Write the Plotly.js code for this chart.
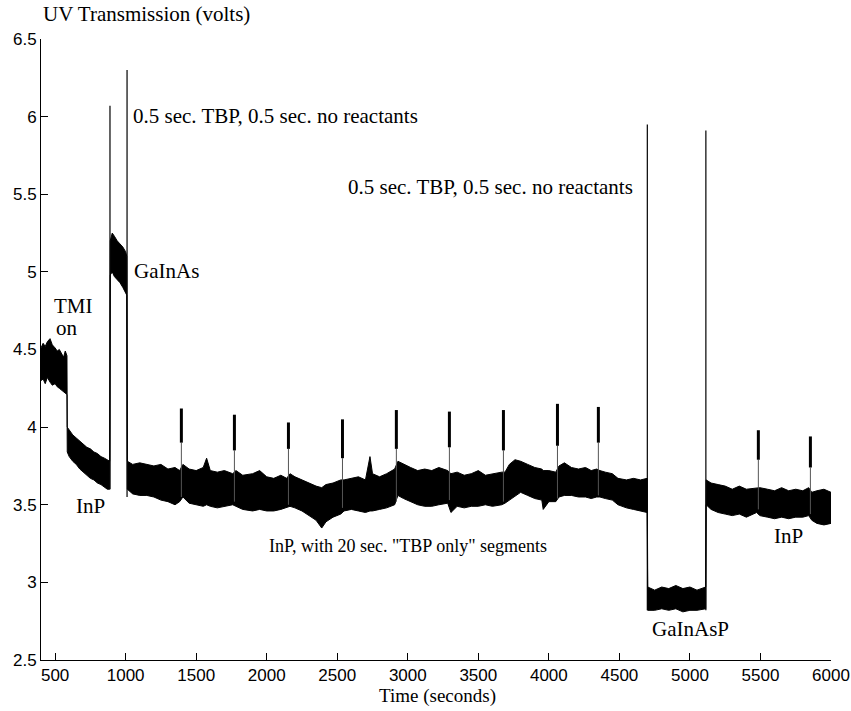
<!DOCTYPE html>
<html><head><meta charset="utf-8">
<script src="https://cdn.plot.ly/plotly-3.0.1.min.js"></script>
<style>html,body{margin:0;padding:0;background:#fff}</style>
</head><body><div id="chart" style="width:851px;height:711px"></div>
<script>
// ---- data (envelope of the noisy UV transmission signal) ----
const time = [
  400,415,430,445,464,480,500,515,530,545,560,572,584,
  586,600,625,650,675,700,725,750,775,800,825,850,870,887,
  891,905,920,940,960,980,1000,1008,
  1012,1050,1100,1150,1200,1250,1300,1350,1383,1406,1450,1500,1550,1574,1600,1650,1700,1759,
  1782,1830,1900,1950,2000,2050,2100,2142,2165,2200,2250,2300,2350,2390,2420,2470,2525,
  2548,2600,2650,2700,2732,2750,2800,2850,2907,2930,2970,3020,3070,3120,3170,3220,3283,
  3306,3350,3400,3450,3500,3550,3600,3666,3689,3720,3760,3800,3850,3900,3950,3960,4000,4049,
  4072,4110,4160,4210,4260,4300,4339,4362,4400,4450,4490,4550,4600,4650,4697,
  4701,4750,4800,4850,4900,4950,5000,5050,5112,
  5115,5150,5200,5250,5300,5350,5400,5473,5495,5550,5600,5650,5700,5750,5800,5842,5864,5900,5950,6000
];
const upper = [
  4.51,4.54,4.52,4.55,4.57,4.53,4.51,4.49,4.50,4.47,4.45,4.49,4.46,
  4.00,3.98,3.95,3.93,3.91,3.89,3.87,3.86,3.84,3.83,3.81,3.80,3.79,3.78,
  5.20,5.25,5.23,5.20,5.18,5.16,5.13,5.10,
  3.78,3.76,3.77,3.76,3.75,3.76,3.73,3.74,3.72,3.76,3.73,3.72,3.74,3.80,3.72,3.71,3.72,3.70,
  3.72,3.69,3.70,3.72,3.68,3.67,3.69,3.67,3.70,3.68,3.66,3.64,3.62,3.61,3.63,3.64,3.66,
  3.66,3.67,3.68,3.66,3.81,3.70,3.68,3.70,3.73,3.78,3.76,3.74,3.72,3.73,3.72,3.74,3.72,
  3.70,3.71,3.69,3.70,3.72,3.69,3.70,3.71,3.71,3.76,3.79,3.78,3.76,3.74,3.73,3.72,3.72,3.71,
  3.75,3.77,3.74,3.73,3.74,3.72,3.73,3.72,3.71,3.70,3.67,3.66,3.67,3.66,3.67,
  2.97,2.95,2.97,2.96,2.98,2.96,2.97,2.95,2.97,
  3.66,3.64,3.63,3.62,3.60,3.62,3.60,3.61,3.61,3.60,3.59,3.61,3.59,3.60,3.59,3.61,3.58,3.59,3.60,3.58
];
const lower = [
  4.30,4.31,4.28,4.32,4.29,4.27,4.28,4.26,4.25,4.24,4.23,4.22,4.21,
  3.84,3.81,3.78,3.76,3.73,3.71,3.69,3.67,3.66,3.64,3.63,3.61,3.60,3.60,
  4.98,5.00,4.97,4.95,4.93,4.90,4.87,4.85,
  3.60,3.57,3.56,3.56,3.55,3.53,3.52,3.50,3.52,3.55,3.51,3.50,3.49,3.50,3.49,3.48,3.49,3.50,
  3.49,3.47,3.46,3.47,3.46,3.46,3.47,3.48,3.49,3.48,3.46,3.43,3.40,3.35,3.39,3.42,3.44,
  3.46,3.47,3.46,3.45,3.46,3.46,3.47,3.48,3.50,3.56,3.54,3.52,3.50,3.49,3.49,3.50,3.51,
  3.45,3.49,3.48,3.49,3.49,3.50,3.49,3.50,3.51,3.53,3.56,3.58,3.56,3.54,3.53,3.47,3.52,3.52,
  3.55,3.56,3.56,3.55,3.55,3.54,3.55,3.55,3.54,3.53,3.50,3.48,3.47,3.46,3.45,
  2.82,2.82,2.83,2.82,2.83,2.81,2.82,2.82,2.83,
  3.50,3.47,3.45,3.44,3.43,3.44,3.42,3.45,3.43,3.42,3.41,3.42,3.41,3.42,3.42,3.43,3.40,3.38,3.37,3.38
];
// large switching transients (0.5 s TBP / 0.5 s no reactants)
const transientTimes = [889, 1010, 4698, 5113];
const transientBase  = [3.60, 3.55, 2.82, 2.82];
const transientPeak  = [6.07, 6.30, 5.95, 5.91];
// 20 s "TBP only" segments
const tbpTimes  = [1385, 1761, 2144, 2527, 2909, 3285, 3668, 4051, 4341, 5475, 5844];
const tbpTop    = [4.12, 4.08, 4.03, 4.05, 4.11, 4.10, 4.11, 4.15, 4.13, 3.98, 3.94];
const tbpBottom = [3.90, 3.85, 3.86, 3.80, 3.86, 3.87, 3.85, 3.88, 3.90, 3.79, 3.74];
const tbpBase   = [3.55, 3.52, 3.50, 3.48, 3.52, 3.53, 3.52, 3.54, 3.56, 3.47, 3.44];
const tbpDuration = 20;
// axes
const xTicks = [500,1000,1500,2000,2500,3000,3500,4000,4500,5000,5500,6000];
const xTickLabels = ['500','1000','1500','2000','2500','3000','3500','4000','4500','5000','5500','6000'];
const yTicks = [2.5,3,3.5,4,4.5,5,5.5,6,6.5];
const yTickLabels = ['2.5','3','3.5','4','4.5','5','5.5','6','6.5'];

// ---- build traces ----
const tx=[], ty=[];
transientTimes.forEach((t,i)=>{ tx.push(t,t,null); ty.push(transientBase[i],transientPeak[i],null); });
const thinX=[], thinY=[], thickX=[], thickY=[];
tbpTimes.forEach((t,i)=>{
  const c = t + tbpDuration/2;
  thinX.push(c,c,null);
  thinY.push(tbpBase[i],tbpBottom[i],null);
  thickX.push(c,c,null);
  thickY.push(tbpBottom[i],tbpTop[i],null);
});
const blk='#000';
const traces = [
  {x:time, y:lower, mode:'lines', line:{color:blk,width:1}, hoverinfo:'skip'},
  {x:time, y:upper, mode:'lines', fill:'tonexty', fillcolor:blk, line:{color:blk,width:1}, hoverinfo:'skip'},
  {x:tx, y:ty, mode:'lines', line:{color:blk,width:1.2}, connectgaps:false, hoverinfo:'skip'},
  {x:thinX, y:thinY, mode:'lines', line:{color:'#555',width:1}, connectgaps:false, hoverinfo:'skip'},
  {x:thickX, y:thickY, mode:'lines', line:{color:blk,width:3}, connectgaps:false, hoverinfo:'skip'}
];

// pixel -> paper helpers for label placement
const L=41, R=831, T=39, B=660;
const px = p => (p-L)/(R-L);
const py = p => (B-p)/(B-T);
const serifFamily = 'Liberation Serif, Times New Roman, serif';
function lab(text,x,y,size,anchor){ return {text:text, xref:'paper', yref:'paper', x:px(x), y:py(y), xanchor:anchor||'left', yanchor:'middle', showarrow:false, font:{family:serifFamily, size:size||21, color:'#000'}}; }

const layout = {
  width:851, height:711,
  margin:{l:L, r:851-R, t:T, b:711-B, pad:0},
  paper_bgcolor:'#fff', plot_bgcolor:'#fff',
  showlegend:false,
  font:{family:'Liberation Sans, Arial, sans-serif', size:17, color:'#000'},
  title:{text:'UV Transmission (volts)', xref:'paper', x:0, xanchor:'left', yref:'container', y:1-14/711, yanchor:'middle',
         font:{family:serifFamily, size:21, color:'#000'}, pad:{l:2,r:0,t:0,b:0}},
  xaxis:{range:[400,6000], tickvals:xTicks, ticktext:xTickLabels, ticks:'inside', ticklen:7, tickwidth:1, tickcolor:'#000',
         showline:true, linecolor:'#000', linewidth:1, showgrid:false, zeroline:false, mirror:false, fixedrange:true},
  yaxis:{range:[2.5,6.5], tickvals:yTicks, ticktext:yTickLabels, ticks:'inside', ticklen:7, tickwidth:1, tickcolor:'#000',
         showline:true, linecolor:'#000', linewidth:1, showgrid:false, zeroline:false, mirror:false, fixedrange:true},
  annotations:[
    lab('0.5 sec. TBP, 0.5 sec. no reactants', 131, 116),
    lab('0.5 sec. TBP, 0.5 sec. no reactants', 346, 187),
    lab('TMI', 52, 306),
    lab('on', 54, 328),
    lab('GaInAs', 132, 271),
    lab('InP', 74, 506),
    lab('InP, with 20 sec. "TBP only" segments', 267, 546, 18),
    lab('GaInAsP', 650, 629),
    lab('InP', 772, 536),
    lab('Time (seconds)', 437, 696, 19, 'center')
  ]
};
Plotly.newPlot('chart', traces, layout, {displayModeBar:false, staticPlot:true});
</script></body></html>
